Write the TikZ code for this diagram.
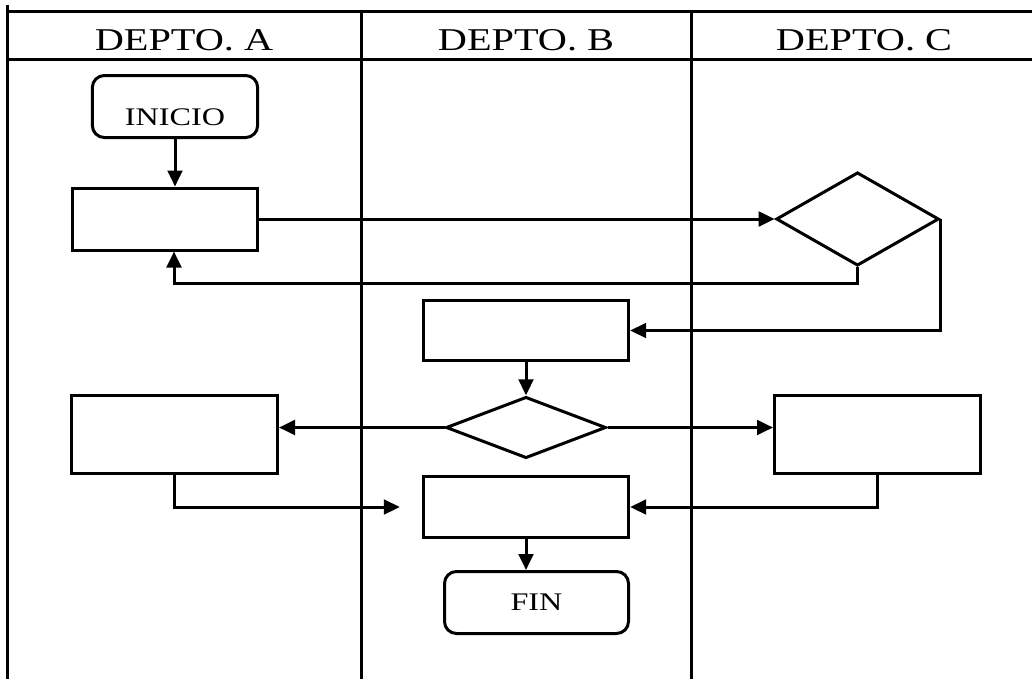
\documentclass[tikz,border=0pt]{standalone}
\usepackage{fontspec}
\setmainfont{Liberation Serif}
\usepackage{graphicx}
\usetikzlibrary{shapes.geometric, arrows.meta, positioning}

\newcommand{\wide}[1]{\scalebox{1.27}[1]{#1}}

\begin{document}
\begin{tikzpicture}[x=0.75pt, y=-0.75pt, line width=2.25pt,
    >={Triangle[length=12pt, width=11pt]},
    head/.style={font=\fontsize{23.8}{26}\selectfont},
    proc/.style={draw, rectangle, inner sep=0pt},
    decision/.style={draw, diamond, inner sep=0pt},
    terminal/.style={draw, rectangle, rounded corners=9pt, inner sep=0pt,
        font=\fontsize{19}{21}\selectfont}]
    \useasboundingbox (0,0) rectangle (1032,679);

    % lanes
    \draw (7,11) -- (1032,11);
    \draw (7,59) -- (1032,59);
    \draw (7,5) -- (7,679);
    \draw (361,11) -- (361,679);
    \draw (691,11) -- (691,679);

    \node[head] (hA) at (184,40) {\wide{DEPTO. A}};
    \node[head] (hB) at (526,40) {\wide{DEPTO. B}};
    \node[head] (hC) at (864,40) {\wide{DEPTO. C}};

    % steps
    \node[terminal, minimum width=124pt, minimum height=46.5pt,
        text height=28pt, text depth=0pt] (inicio) at (175,106.5) {\wide{INICIO}};
    \node[proc, minimum width=139pt, minimum height=46.5pt] (pA1) at (165,219) {};
    \node[decision, minimum width=122pt, minimum height=70pt] (dC1) at (857.5,219) {};
    \node[proc, minimum width=154pt, minimum height=45pt] (pB1) at (526,330.5) {};
    \node[decision, minimum width=120pt, minimum height=46pt] (dB2) at (526,427.5) {};
    \node[proc, minimum width=154.5pt, minimum height=58.5pt] (pA2) at (174.5,434.5) {};
    \node[proc, minimum width=154.5pt, minimum height=58.5pt] (pC2) at (877.5,434.5) {};
    \node[proc, minimum width=154pt, minimum height=45.75pt] (pB3) at (526,507) {};
    \node[terminal, minimum width=138pt, minimum height=46.5pt] (fin) at (536.5,602.5) {\wide{FIN}};
    \coordinate (back) at (174,283);

    \path[->]
        (inicio) edge (inicio |- pA1.north)
        (pA1.east) edge (pA1.east -| dC1.west)
        (pB1) edge (dB2)
        (dB2.west) edge (dB2.west -| pA2.east)
        (dB2.east) edge (dB2.east -| pC2.west)
        (pB3.south) edge (pB3.south |- fin.north);

    \draw[->] (dC1.south) |- (back) -- (back |- pA1.south);
    \draw[->] (dC1.east) |- (pB1.east);
    \draw[->, shorten >=16.5pt] (pA2.south) |- (pB3.west);
    \draw[->] (pC2.south) |- (pB3.east);
\end{tikzpicture}
\end{document}
